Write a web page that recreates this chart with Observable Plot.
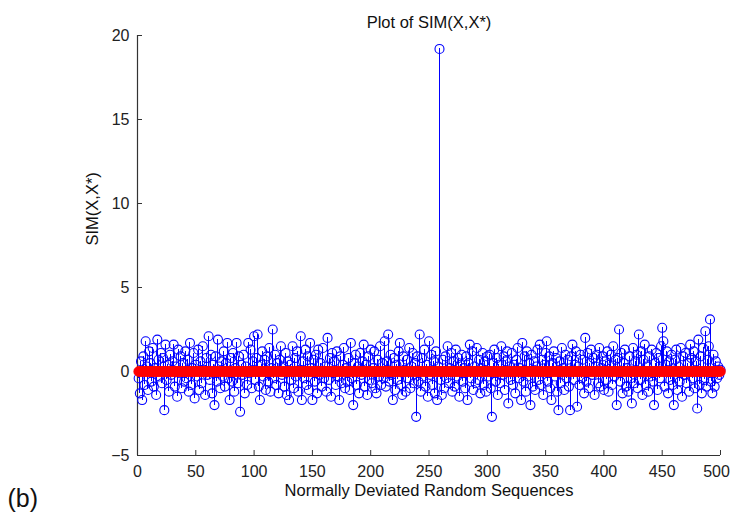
<!DOCTYPE html>
<html>
<head>
<meta charset="utf-8">
<script src="https://cdn.jsdelivr.net/npm/d3@7"></script>
<script src="https://cdn.jsdelivr.net/npm/@observablehq/plot@0.6"></script>
<style>
  html, body { margin: 0; padding: 0; background: #fff; }
  #chart { width: 730px; height: 518px; }
</style>
</head>
<body>
<div id="chart"></div>
<script>
// ---- Data ----
const titleText = "Plot of SIM(X,X*)";
const xLabelText = "Normally Deviated Random Sequences";
const yLabelText = "SIM(X,X*)";
const panelText = "(b)";

const xTicks = [0, 50, 100, 150, 200, 250, 300, 350, 400, 450, 500];
const yTicks = [-5, 0, 5, 10, 15, 20];

// SIM(X,X*) for sequence 1..500 (blue stems)
const simValues = [
  -0.4, -1.3, 0.6, -1.7, 0.9, -0.8, 1.8, 0.3, -1.1, 1.2,
  0.5, -0.6, 1.4, -0.9, 0.2, -1.4, 1.9, 0.7, -0.3, 1.1,
  -0.7, 0.8, -2.3, 1.6, -0.5, 0.4, -1.2, 1.0, -0.2, 0.6,
  1.6, -0.9, 0.3, -1.5, 1.3, -0.1, 0.9, -1.0, 0.5, -0.6,
  1.2, -0.4, 0.7, -1.2, 1.7, -0.8, 0.2, 1.1, -1.6, 0.4,
  -0.3, 1.3, -1.1, 0.6, -0.7, 1.5, 0.1, -1.4, 0.8, -0.2,
  2.1, -0.5, 1.0, -1.3, 0.4, -2.0, 0.9, -0.6, 1.9, 0.3,
  -1.0, 0.6, -0.3, 1.2, -0.9, 0.5, 1.7, -0.4, -1.7, 0.8,
  -0.6, 1.1, -1.2, 0.2, 1.7, -0.7, 0.9, -2.4, 0.4, -0.2,
  1.0, -1.3, 0.3, -0.8, 1.7, -0.1, 1.3, -1.0, 0.6, 2.1,
  -0.5, 0.8, 2.2, -0.9, -1.7, 0.4, 1.2, -0.3, 0.7, -1.1,
  0.9, -0.6, 1.4, -1.2, 0.2, 2.5, -0.4, 1.0, -0.8, 0.5,
  -1.3, 0.7, 1.5, -0.2, 0.3, -0.9, 1.1, -1.4, 0.6, -1.7,
  0.4, -0.5, 1.5, -1.0, 0.8, -0.3, 1.2, -1.2, 0.1, 2.1,
  -1.7, 0.6, -0.4, 1.3, -0.8, 0.9, -1.1, 1.7, 0.2, -1.7,
  0.7, -0.6, 1.0, -1.3, 1.3, -0.2, 0.5, -0.9, 1.4, -0.4,
  0.3, -1.2, 2.0, -0.5, 0.8, -1.5, 1.1, -0.1, 0.6, -0.8,
  1.2, -0.3, -1.7, 0.9, -0.7, 0.4, 1.4, -1.0, 0.2, -0.6,
  0.8, -1.1, 1.7, -0.4, -2.0, 0.5, 1.0, -0.8, 0.3, -1.3,
  1.1, -0.2, 0.6, 1.6, -0.9, 0.4, -1.4, 0.9, -0.5, 1.3,
  -0.7, 0.2, 1.2, -1.0, -1.3, 0.7, -0.3, 1.5, -0.8, 0.5,
  -0.4, 1.8, -0.9, 0.6, 2.2, -0.6, 1.0, -0.2, -1.7, 0.8,
  -1.1, 0.4, -0.5, 1.2, 1.7, -0.8, -1.4, 0.9, 0.1, -1.2,
  0.7, -0.4, 1.4, -1.0, 0.3, 1.1, -0.7, 0.5, -2.7, 0.9,
  -0.6, 2.2, -1.2, 0.8, -0.3, 1.3, -0.9, 0.4, -1.5, 1.8,
  -0.2, 1.0, -0.8, 0.6, -1.3, 1.2, -1.7, 0.3, 19.2, -0.5,
  -1.4, 0.7, -1.0, 0.9, -0.4, 1.5, -0.7, 0.2, 1.1, -1.2,
  0.6, -0.9, 1.3, -0.3, 0.8, -1.5, 0.4, 1.0, -0.6, 0.2,
  -1.0, 0.9, -1.7, 0.5, 1.6, -0.4, 1.2, -1.1, 0.3, -0.7,
  1.4, -0.5, 0.7, -1.3, 0.2, 1.1, -0.8, 0.6, -1.2, 0.9,
  -0.3, 1.0, -1.0, -2.7, 0.5, 1.3, -0.6, 0.8, -1.4, 0.4,
  -0.7, 1.5, -0.2, 0.9, -1.1, 0.6, 1.2, -1.9, 0.3, -0.5,
  1.1, -0.8, 0.4, -1.3, 0.7, 1.4, -0.4, 0.2, -1.7, 1.7,
  -0.6, 0.9, -1.2, 1.2, -0.3, 0.5, -2.0, 1.0, -0.9, 0.6,
  -1.1, 0.3, 1.3, -0.5, 1.6, -0.8, 0.7, -1.4, 0.4, 1.1,
  1.8, -0.6, 0.9, -1.0, -1.7, 0.5, 1.2, -0.3, 0.8, -1.2,
  -2.3, 0.6, -0.7, 1.4, 0.2, -1.1, 1.0, -0.4, 0.7, -0.9,
  -2.3, 0.9, 1.6, -0.5, 0.4, 1.2, -2.1, 0.3, -0.8, 1.0,
  -0.4, 0.7, -1.3, 2.0, -0.6, 1.1, -1.0, 0.5, 1.3, -0.2,
  0.8, -1.4, 0.3, 1.0, -0.7, 1.4, -0.9, 0.2, 0.9, -1.1,
  0.6, -0.5, 1.2, -1.2, 0.4, 1.0, -0.8, 1.5, -0.3, 0.7,
  -2.0, 0.8, 2.5, -0.6, 1.1, -1.3, 0.5, 1.3, -0.9, 0.2,
  -1.2, 0.9, -0.4, -1.9, 1.4, -0.7, 0.6, 1.0, -1.0, 2.2,
  -0.5, 1.2, -1.4, 0.7, 1.6, -0.8, 0.3, -1.2, 0.9, -0.3,
  1.3, -0.6, -2.0, 0.5, 1.1, -1.1, 0.8, -0.4, 1.5, 2.6,
  1.8, -0.9, 0.4, 1.2, -1.3, 0.6, -0.5, 1.0, -0.8, -2.0,
  0.7, 1.3, -1.1, 0.3, -0.6, 1.4, -1.5, 0.9, -0.2, 1.1,
  -0.7, 0.5, -1.2, 1.6, 0.8, -0.4, 1.2, -1.0, 0.6, -2.2,
  1.9, -0.8, 0.9, -1.3, 1.4, -0.5, 2.4, -0.9, 0.7, 1.5,
  3.1, -0.6, -1.3, 1.0, -0.9, 0.6, -0.4, 0.3, -0.2, 0.1
];

// Second series drawn in red (all at zero)
const refValue = 0;

// ---- Build table for the library ----
const rows = simValues.map((v, k) => ({ n: k + 1, sim: v, ref: refValue }));
const xTicksInner = xTicks.slice(0, -1);
const xTickLast = xTicks.slice(-1);

const blue = "#0000ff";
const red = "#ff0000";
const axisColor = "#333333";
const font = "'Liberation Sans', Arial, Helvetica, sans-serif";

const chart = Plot.plot({
  width: 730,
  height: 518,
  marginLeft: 137,
  marginRight: 10,
  marginTop: 35,
  marginBottom: 63,
  style: { fontFamily: font, fontSize: "16px", background: "#fff", color: axisColor },
  x: { domain: [0, 500] },
  y: { domain: [-5, 20] },
  marks: [
    // axes with ticks pointing inward (MATLAB style)
    Plot.axisX({ ticks: xTicksInner, tickSize: 0, tickPadding: 10, label: null, fill: "#222", fontSize: 16 }),
    Plot.axisX({ ticks: xTickLast, tickSize: 0, tickPadding: 10, label: null, fill: "#222", fontSize: 16, dx: -4 }),
    Plot.axisY({ ticks: yTicks, tickSize: 0, tickPadding: 8, label: null, fill: "#222", fontSize: 16 }),
    Plot.tickX(xTicks, { x: d => d, insetTop: 415, stroke: axisColor }),
    Plot.tickY(yTicks, { y: d => d, insetRight: 578, stroke: axisColor }),
    Plot.ruleX([0], { stroke: axisColor, strokeWidth: 1.2 }),
    Plot.ruleY([-5], { stroke: axisColor, strokeWidth: 1.2 }),
    // blue stems
    Plot.ruleX(rows, { x: "n", y1: "ref", y2: "sim", stroke: blue, strokeWidth: 1, shapeRendering: "crispEdges" }),
    Plot.dot(rows, { x: "n", y: "sim", r: 4.5, stroke: blue, strokeWidth: 1.1, fill: "none" }),
    // red series on top
    Plot.dot(rows, { x: "n", y: "ref", r: 5, fill: red, stroke: red, strokeWidth: 0.5 }),
    // texts
    Plot.text([titleText], { text: d => d, frameAnchor: "top", dy: -19, fill: "#111", fontSize: 16.5 }),
    Plot.text([xLabelText], { text: d => d, frameAnchor: "bottom", dy: 40, fill: "#111", fontSize: 16.5 }),
    Plot.text([yLabelText], { text: d => d, frameAnchor: "left", rotate: -90, dx: -45, fill: "#111", fontSize: 16.5 }),
    Plot.text([panelText], { text: d => d, frameAnchor: "bottom-left", textAnchor: "start", dx: -130, dy: 51, fill: "#111", fontSize: 25 })
  ]
});

document.getElementById("chart").appendChild(chart);
</script>
</body>
</html>
